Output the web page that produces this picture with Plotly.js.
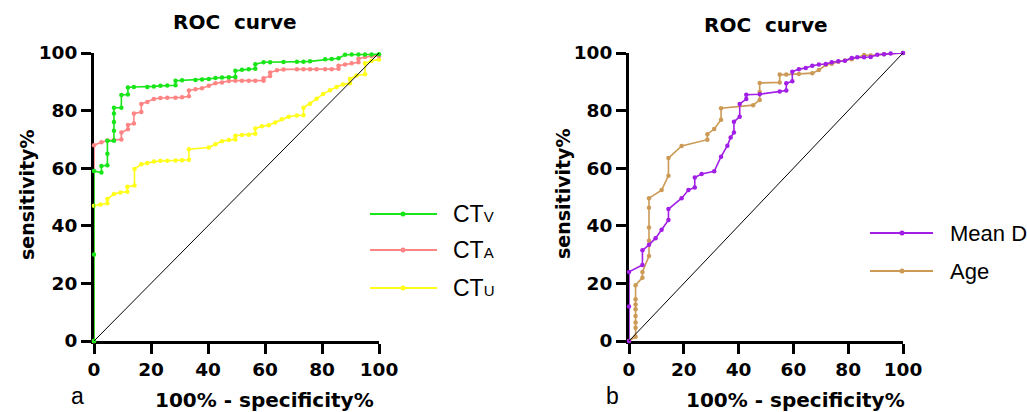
<!DOCTYPE html>
<html><head><meta charset="utf-8">
<script src="https://cdn.plot.ly/plotly-3.0.1.min.js"></script>
<style>html,body{margin:0;padding:0;background:#fff}#chart{width:1027px;height:412px}</style>
</head><body><div id="chart"></div>
<script>
// ---- Data ----
const ctvX = [0,0,0,2.6,2.6,4.7,4.7,4.7,7,7,7,7,7,9.6,9.6,11.9,11.9,14,18.7,21,23.3,25.7,28.6,28.6,30.9,35.6,37.9,40.3,42.6,44.9,47.3,49.6,49.6,51.9,54.3,56.6,56.6,59.5,61.8,66.5,71.2,73.5,75.8,81.1,83.4,85.8,88.1,90.4,92.8,95.1,97.4,100];
const ctvY = [0,30,59,58.5,60.8,61,65,69.5,69.5,73,76,79,81,81,85.4,85.6,88,88.2,88.2,88.4,88.6,88.7,88.8,90.4,90.5,90.6,90.8,91,91.3,91.5,91.6,91.7,93.8,94.2,94.4,94.5,96.1,96.8,96.8,96.9,97,97,97.1,97.8,97.9,98.2,99.4,99.5,99.5,99.5,99.5,99.6];
const ctaX = [0,0,2.6,4.7,7,9.6,9.6,11.9,11.9,14,14,16.6,16.6,18.7,21,23.3,25.7,28.6,30.9,33.3,33.3,35.6,37.9,40.3,42.6,44.9,47.3,49.6,51.9,54.3,56.6,59.5,59.5,61.8,61.8,64.2,66.5,71.2,73.5,75.8,78.1,81.1,83.4,85.8,85.8,88.1,90.4,92.8,92.8,95.1,97.4,100];
const ctaY = [0,68,69,69.6,69.8,70,72.4,73.5,75,75.5,79,79.5,82.3,83,84,84.4,84.5,84.5,84.6,85,87,87.4,87.8,88.6,89.5,89.8,90.3,90.4,90.4,90.4,90.4,90.4,91.2,92,93.2,94,94.3,94.4,94.4,94.4,94.4,94.4,94.4,94.5,95.6,96,96.4,96.8,98,98.6,99,99];
const ctuX = [0,0,2.3,4.7,4.7,7,9.3,11.7,11.7,14.2,14.2,16.6,18.7,21,23.3,25.7,28.6,30.9,33.3,33.3,40.3,42.6,44.9,47.3,49.6,49.6,51.9,54.3,56.6,56.6,58.9,61.3,63.6,65.9,68.3,71.2,73.5,73.5,75.8,78.1,80.4,82.8,85.1,87.4,89.8,89.8,92.1,95.1,95.1,97.4,100];
const ctuY = [0,47,47.4,47.8,49.3,51,51.6,51.8,53.6,54,59.7,61.4,61.8,62.3,62.6,62.6,62.7,62.8,62.9,66.6,67.2,68.3,69.4,69.8,70,71.3,71.5,71.6,72,73.8,74.6,74.9,75.9,77,77.9,78.3,78.4,81,82.4,84.1,85.8,87.1,88.2,89.1,89.5,91,92.2,92.6,96.4,97.3,97.7];
const meanDX = [0,0,0,4.9,4.9,7.3,9.7,11.9,14.4,14.4,19.2,21.7,24,24,26.5,31.1,33.6,35.9,37.1,38.3,38.3,40.4,40.4,42.8,42.8,47.7,55,57.4,57.4,59.6,59.6,62,64.5,66.9,69.3,71.8,74,76.4,78.8,81.3,83.3,85.8,88.2,90.6,93.1,95.5,100];
const meanDY = [0,12,24,26.4,31.5,33.4,35.7,38.6,42,45.8,49.6,52.4,53.3,56.8,58,58.9,64,67.8,70.7,72.4,76.1,77.9,82.3,84,85.5,85.7,86.6,87,89.5,90.2,93.5,94.4,94.8,95.6,96,96.2,96.8,97.1,97.3,98.3,98.5,98.5,98.6,99.4,99.6,99.8,100];
const ageX = [0,2.4,2.4,2.4,2.4,2.4,2.4,2.4,2.4,4.9,4.9,7.3,7.3,7.3,7.3,7.3,11.9,14.4,14.4,19.2,28.6,28.6,31.1,33.6,33.6,45.3,47.7,47.7,47.7,55,55,57.4,62,66.9,69.3,71.8,74,76.4,78.8,81.3,85.8,88.2,93.1,100];
const ageY = [0,1.5,4.6,6.4,8.7,11,12.7,14.5,19.4,22,24,29.5,34.8,39.4,46.3,49.6,52.4,57.4,63.5,67.7,69.9,71.8,73.6,76.8,80.8,81.9,83.7,86.5,89.6,89.8,92.5,92.5,92.7,93,94.1,95.8,96.3,97,97.4,97.8,99.3,99.1,99.6,100];
const refX = [0,100];
const refY = [0,100];
const tickVals = [0,20,40,60,80,100];
const tickText = ['0','20','40','60','80','100'];

// ---- Styles ----
const W = 1027, H = 412;
const px = v => v / W, py = v => 1 - v / H;
const C = {ctv:'#19e619', cta:'#ff8585', ctu:'#ffff19', mean:'#a21ee6', age:'#cc9a55'};
const boldFont = {family:'DejaVu Sans, Liberation Sans, Arial', size:18.5, color:'#000', weight:700};

function curve(x, y, color, xa, ya, name){
  return {x, y, type:'scatter', mode:'lines+markers', name, xaxis:xa, yaxis:ya,
    line:{color, width:1.6}, marker:{color, size:4.5}, showlegend:false, cliponaxis:false, hoverinfo:'skip'};
}
function diag(xa, ya){
  return {x:refX, y:refY, type:'scatter', mode:'lines', xaxis:xa, yaxis:ya,
    line:{color:'#000', width:1}, showlegend:false, hoverinfo:'skip'};
}
const traces = [
  curve(ctuX, ctuY, C.ctu, 'x', 'y', 'CTU'),
  curve(ctaX, ctaY, C.cta, 'x', 'y', 'CTA'),
  curve(ctvX, ctvY, C.ctv, 'x', 'y', 'CTV'),
  diag('x','y'),
  curve(ageX, ageY, C.age, 'x2', 'y2', 'Age'),
  curve(meanDX, meanDY, C.mean, 'x2', 'y2', 'Mean D'),
  diag('x2','y2')
];

function axis(domain, anchor){
  return {domain, anchor, range:[0,100], showline:true, linewidth:3, linecolor:'#000',
    ticks:'outside', ticklen:10, tickwidth:3, tickcolor:'#000', tickvals:tickVals, ticktext:tickText,
    tickfont:boldFont, showgrid:false, zeroline:false, layer:'below traces', fixedrange:true};
}
const ydom = [py(341), py(53)];

// legend items (decoration)
const shapes = [], annotations = [];
function legendItem(x0, x1, xd, y, color, html, tx, size){
  shapes.push({type:'line', xref:'paper', yref:'paper', x0:px(x0), x1:px(x1), y0:py(y), y1:py(y), line:{color, width:2}});
  shapes.push({type:'circle', xref:'paper', yref:'paper', x0:px(xd-2.5), x1:px(xd+2.5), y0:py(y+2.5), y1:py(y-2.5), fillcolor:color, line:{width:0}});
  annotations.push({xref:'paper', yref:'paper', x:px(tx), y:py(y), xanchor:'left', yanchor:'middle', showarrow:false,
    text:html, font:{family:'Liberation Sans, Arial', size:size, color:'#000'}});
}
legendItem(370, 437, 403, 214, C.ctv, "CT<span style='font-size:15px'>V</span>", 451, 23);
legendItem(370, 437, 403, 250, C.cta, "CT<span style='font-size:15px'>A</span>", 451, 23);
legendItem(370, 437, 403, 288, C.ctu, "CT<span style='font-size:15px'>U</span>", 451, 23);
legendItem(870, 933, 902, 233, C.mean, "Mean D", 948, 22);
legendItem(870, 933, 902, 271, C.age, "Age", 948, 22);

function label(text, x, y, opts){
  annotations.push(Object.assign({xref:'paper', yref:'paper', x:px(x), y:py(y), xanchor:'center', yanchor:'middle',
    showarrow:false, text, font:Object.assign({}, boldFont, {size:19})}, opts||{}));
}
label('ROC  curve', 235, 22, {font:Object.assign({}, boldFont, {size:20})});
label('ROC  curve', 766, 25, {font:Object.assign({}, boldFont, {size:20})});
label('100% - specificity%', 264, 400, {font:Object.assign({}, boldFont, {size:20})});
label('100% - specificity%', 795, 400, {font:Object.assign({}, boldFont, {size:20})});
label('sensitivity%', 27, 195, {textangle:-90});
label('sensitivity%', 563, 194, {textangle:-90});
label('a', 77, 411, {yanchor:'bottom', font:{family:'Liberation Sans, Arial', size:23, color:'#000'}});
label('b', 612, 411, {yanchor:'bottom', font:{family:'Liberation Sans, Arial', size:23, color:'#000'}});

const layout = {
  width:W, height:H, margin:{l:0, r:0, t:0, b:0}, paper_bgcolor:'#fff', plot_bgcolor:'rgba(0,0,0,0)',
  showlegend:false,
  xaxis: axis([px(94), px(379)], 'y'),
  yaxis: axis(ydom, 'x'),
  xaxis2: axis([px(629), px(903)], 'y2'),
  yaxis2: axis(ydom, 'x2'),
  shapes, annotations
};
Plotly.newPlot('chart', traces, layout, {staticPlot:true, displayModeBar:false});
</script>
</body></html>
